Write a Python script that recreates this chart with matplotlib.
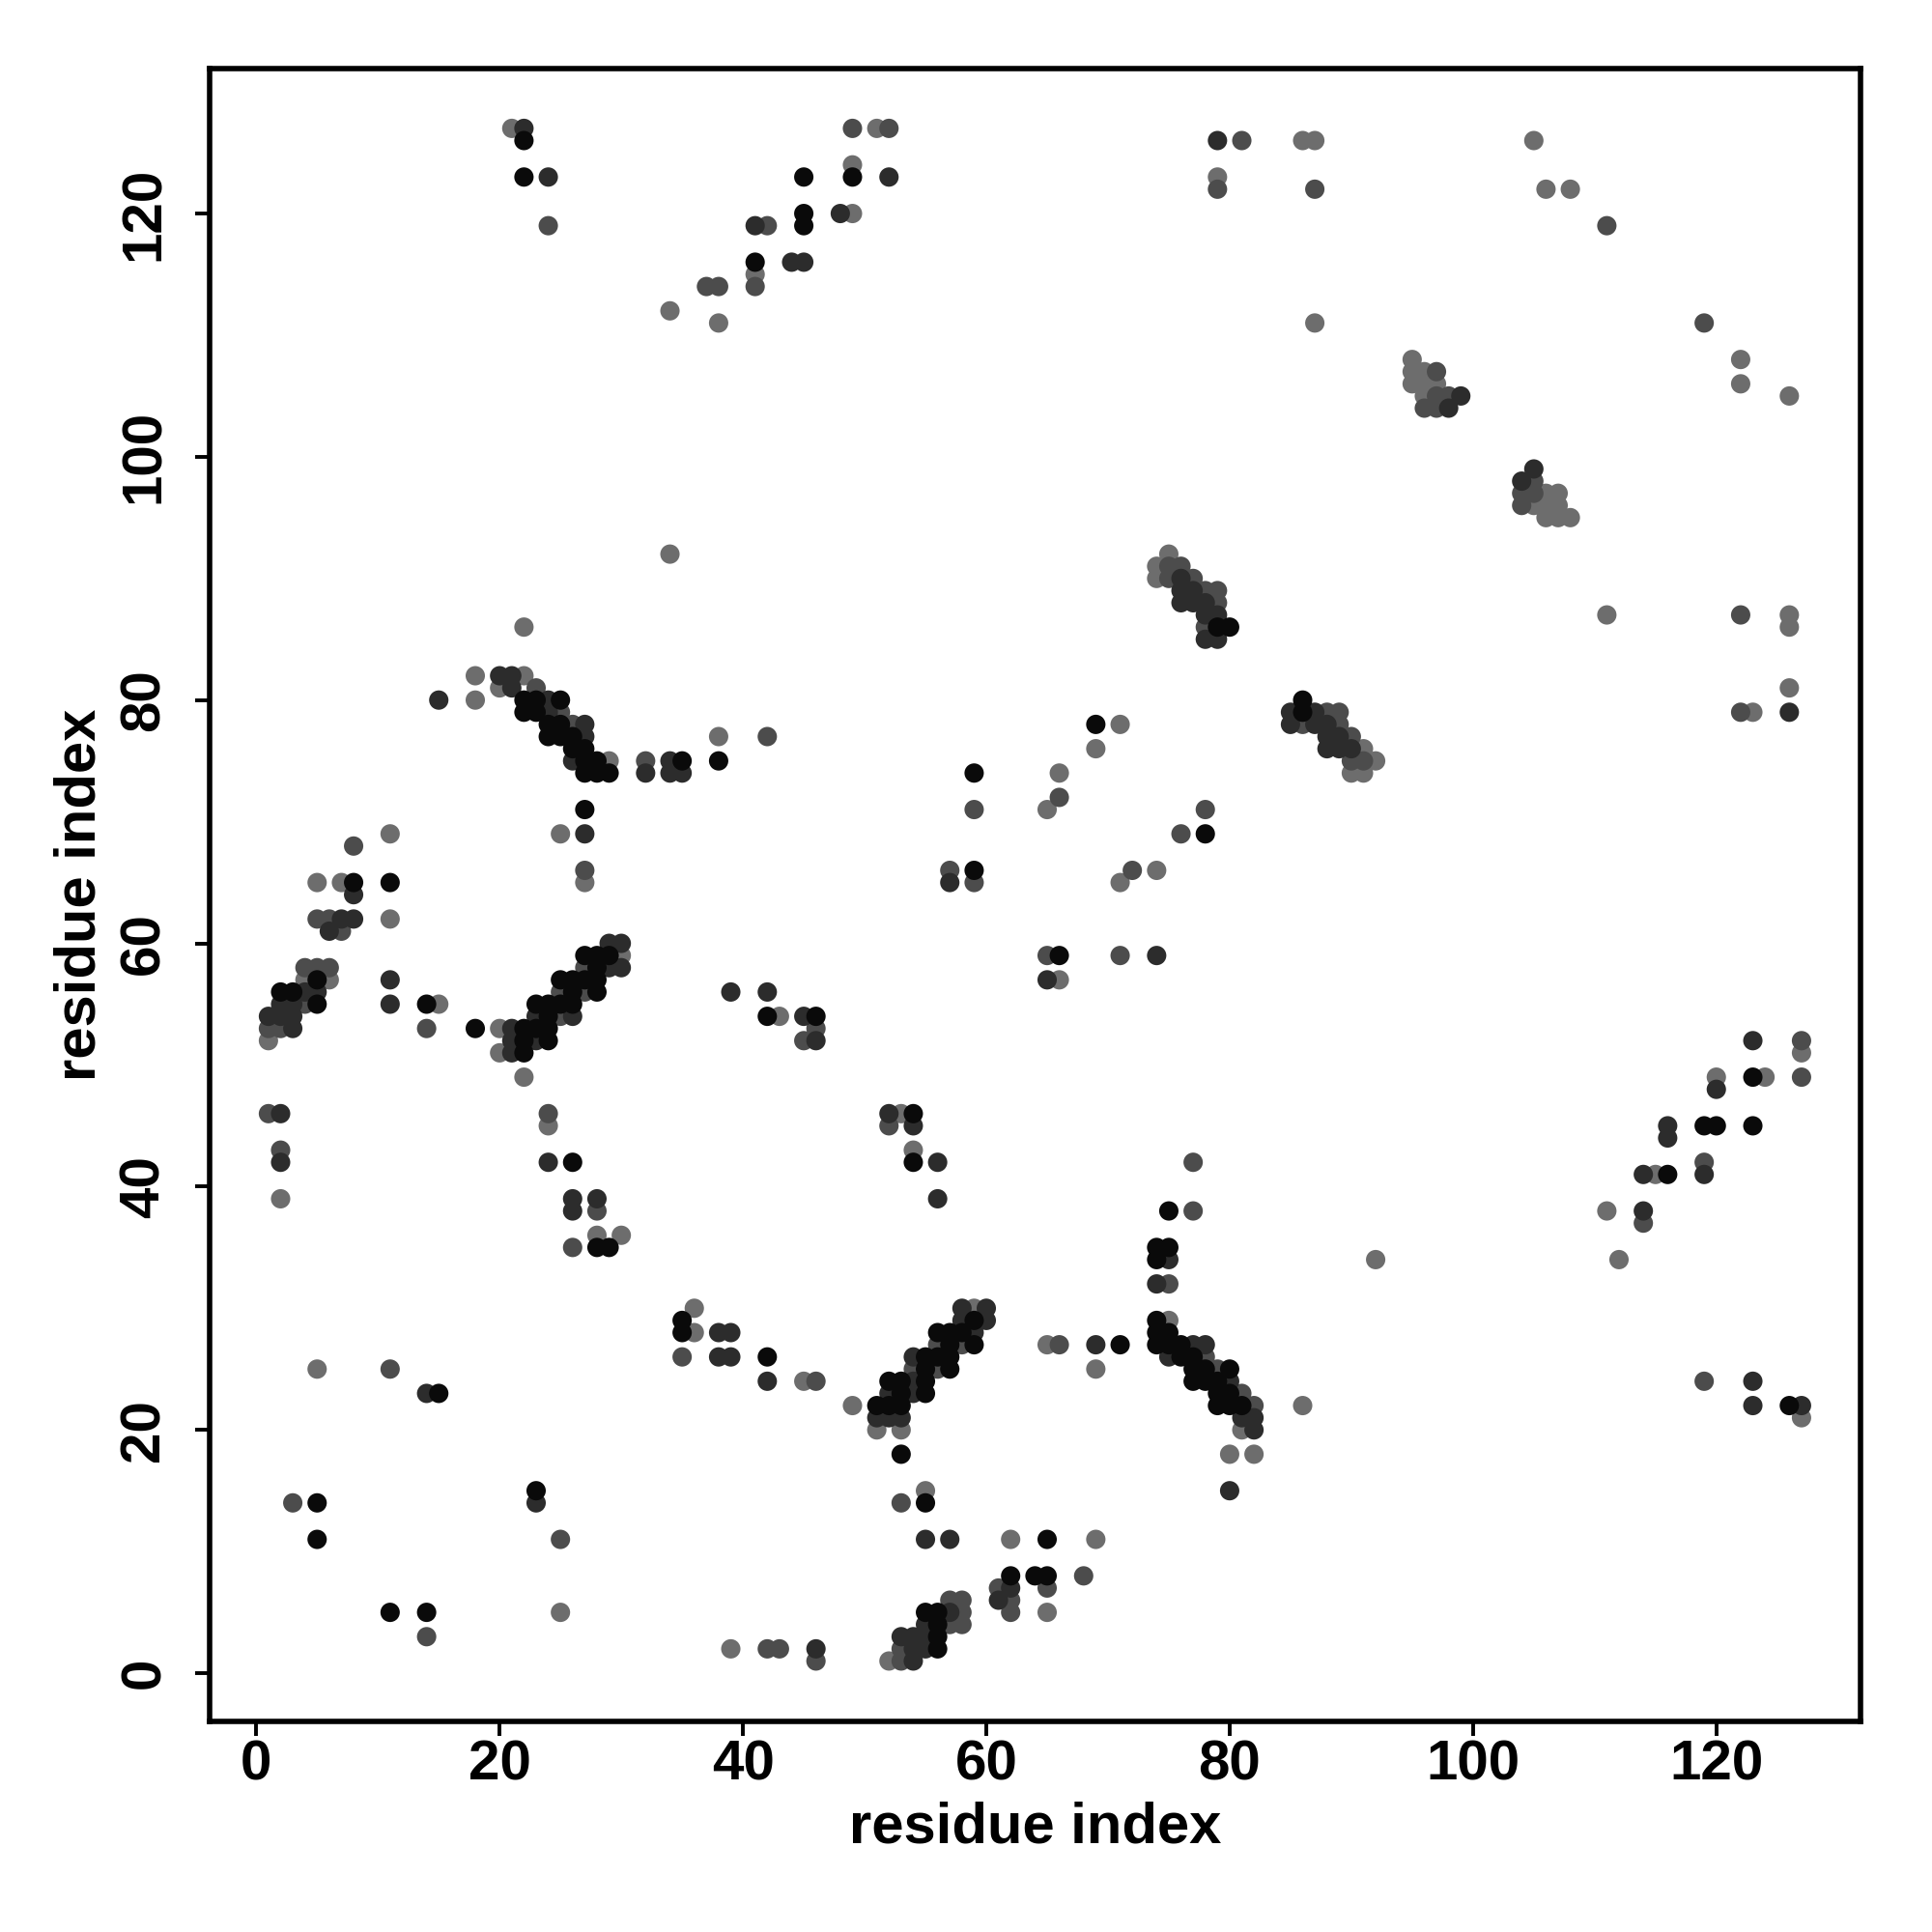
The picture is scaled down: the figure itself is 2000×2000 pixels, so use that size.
#!/usr/bin/env python3
"""Residue contact map: grey level = contact strength (4 shades)."""

import matplotlib
matplotlib.use("Agg")
import matplotlib.pyplot as plt

# contacts (residue i, residue j), grouped by shade
BLACK = [
    (22, 126), (22, 123), (45, 123), (49, 123), (45, 120), (45, 119), (41, 116),
    (86, 80), (86, 79), (79, 86), (80, 86),
    (35, 75), (38, 75), (59, 74), (69, 78), (78, 69), (59, 66),
    (22, 80), (23, 80), (22, 79), (23, 79), (25, 80), (24, 78), (24, 77), (25, 78),
    (25, 77), (26, 77), (26, 76), (27, 76), (27, 75), (27, 74), (28, 75), (28, 74),
    (29, 74), (27, 71),
    (8, 65), (11, 65), (5, 57), (2, 56), (3, 56), (5, 55),
    (27, 59), (28, 59), (29, 59), (28, 58), (25, 57), (26, 57), (27, 57), (28, 57),
    (28, 56), (26, 56), (23, 55), (24, 55), (25, 55), (26, 55), (24, 54), (22, 53),
    (23, 53), (24, 53), (22, 52), (24, 52), (22, 51), (18, 53), (14, 55),
    (26, 42), (28, 35), (29, 35),
    (42, 54), (46, 54), (54, 46), (54, 42),
    (66, 59),
    (75, 38), (74, 35), (75, 35), (74, 34),
    (123, 49), (119, 45), (120, 45), (123, 45), (116, 41),
    (15, 23), (5, 14), (5, 11), (23, 15), (11, 5), (14, 5),
    (35, 29), (35, 28), (42, 26),
    (59, 29), (56, 28), (57, 28), (58, 28), (57, 27), (59, 27), (55, 26), (56, 26),
    (57, 26), (55, 25), (57, 25), (52, 24), (53, 24), (55, 24), (53, 23), (55, 23),
    (51, 22), (52, 22), (53, 22), (53, 18),
    (55, 14), (65, 11), (62, 8), (64, 8), (65, 8), (55, 5), (56, 5), (56, 4),
    (56, 3), (56, 2),
    (71, 27),
    (74, 29), (74, 28), (75, 28), (74, 27), (75, 27), (76, 27), (76, 26), (77, 26),
    (77, 25), (78, 25), (77, 24), (78, 24), (79, 24), (79, 23), (79, 22), (80, 25),
    (80, 23), (80, 22), (81, 22),
    (126, 22),
]

DARK = [
    (22, 127), (24, 123), (52, 123), (48, 120), (41, 119), (44, 116), (45, 116),
    (79, 126),
    (99, 105), (98, 104), (105, 99), (104, 98),
    (126, 79),
    (85, 79), (85, 78), (87, 79), (87, 78), (88, 78), (88, 77), (89, 77), (88, 76),
    (89, 76), (90, 76),
    (76, 90), (76, 89), (77, 89), (76, 88), (77, 88), (78, 88), (78, 87), (79, 87),
    (78, 85), (79, 85),
    (34, 75), (34, 74), (35, 74), (57, 65),
    (15, 80), (20, 82), (21, 82), (21, 81), (24, 80), (27, 78), (27, 77), (26, 75),
    (32, 74), (27, 69), (24, 79),
    (8, 64), (7, 62), (8, 62), (6, 61), (4, 56), (5, 56), (2, 55), (3, 55), (1, 54),
    (2, 54), (3, 54), (3, 53), (11, 57), (11, 55),
    (29, 60), (30, 60), (29, 58), (30, 58), (23, 54), (26, 54), (21, 53), (21, 52),
    (23, 52), (21, 51),
    (2, 46), (2, 42), (24, 42), (26, 39), (26, 38), (28, 39),
    (39, 56), (42, 56), (45, 54), (46, 52), (52, 46), (54, 45), (56, 42), (56, 39),
    (65, 57), (74, 59),
    (75, 34), (74, 32),
    (123, 52), (120, 48), (116, 45), (116, 44), (119, 41), (114, 41), (114, 38),
    (14, 23), (23, 14),
    (38, 28), (39, 28), (38, 26), (39, 26), (42, 24),
    (58, 30), (60, 30), (58, 29), (60, 29), (59, 28), (54, 26), (54, 24), (52, 23),
    (54, 23), (51, 21), (52, 21), (53, 21),
    (55, 11), (57, 11), (62, 7), (61, 6), (57, 5), (55, 4), (53, 3), (54, 3),
    (55, 3), (54, 2), (55, 2), (54, 1),
    (46, 2), (69, 27),
    (77, 27), (78, 27), (75, 26), (80, 24), (81, 21), (82, 21), (82, 20), (80, 15),
    (123, 24), (123, 22), (127, 22),
]

MEDIUM = [
    (24, 119), (49, 127), (52, 127), (42, 119), (41, 114), (37, 114), (38, 114),
    (81, 126), (79, 122), (87, 122), (111, 119), (119, 111),
    (97, 107), (97, 105), (98, 105), (96, 104), (97, 104),
    (105, 98), (104, 97), (105, 97), (104, 96),
    (122, 87), (122, 79),
    (86, 78), (88, 79), (89, 79), (89, 78), (90, 77), (90, 75), (91, 75),
    (75, 91), (76, 91), (75, 90), (77, 90), (78, 89), (79, 89), (79, 88), (78, 86),
    (42, 77), (59, 71), (66, 72), (76, 69), (57, 66), (59, 65), (72, 66), (78, 71),
    (23, 81), (25, 79), (26, 78), (32, 75), (27, 66), (8, 68),
    (5, 62), (6, 62), (7, 61), (4, 58), (5, 58), (6, 58), (4, 55), (1, 53), (2, 53),
    (27, 58), (27, 56), (25, 56), (25, 54), (14, 53),
    (1, 46), (2, 43), (24, 46), (28, 38), (26, 35),
    (46, 53), (45, 52), (52, 45),
    (65, 59), (71, 59),
    (77, 42), (77, 38), (75, 32),
    (127, 52), (127, 49), (119, 42), (114, 37),
    (11, 25), (3, 14), (25, 11), (14, 3),
    (35, 26), (46, 24),
    (56, 27), (58, 27), (54, 25), (56, 25),
    (53, 14), (62, 6), (62, 5), (61, 7), (65, 7), (57, 6), (58, 6), (58, 5),
    (58, 4), (57, 4), (53, 2), (53, 1), (68, 8),
    (42, 2), (43, 2), (46, 1),
    (66, 27),
    (78, 26), (79, 25), (81, 23), (82, 22),
    (119, 24),
]

LIGHT = [
    (21, 127), (49, 124), (51, 127), (49, 120), (41, 115), (34, 112), (38, 111),
    (86, 126), (87, 126), (105, 126), (79, 123), (106, 122), (108, 122), (87, 111),
    (122, 108), (122, 106), (126, 105),
    (95, 108), (95, 107), (96, 107), (95, 106), (96, 106), (97, 106), (96, 105),
    (106, 97), (107, 97), (105, 96), (106, 96), (107, 96), (106, 95), (107, 95),
    (108, 95),
    (111, 87), (126, 87), (126, 86), (126, 81), (123, 79),
    (91, 76), (92, 75), (90, 74), (91, 74),
    (75, 92), (74, 91), (74, 90),
    (34, 92), (38, 77), (66, 74), (65, 71), (71, 78), (69, 76), (74, 66), (71, 65),
    (22, 86), (18, 82), (18, 80), (22, 82), (20, 81), (25, 69), (27, 65), (29, 75),
    (11, 69),
    (5, 65), (7, 65), (11, 62), (4, 57), (6, 57), (1, 52),
    (30, 59), (20, 53), (20, 51), (22, 49), (15, 55),
    (2, 39), (24, 45), (28, 36), (30, 36),
    (43, 54), (53, 46), (54, 43),
    (66, 57),
    (127, 51), (120, 49), (124, 49), (115, 41), (111, 38), (92, 34), (112, 34),
    (5, 25), (25, 5),
    (36, 30), (36, 28), (45, 24), (49, 22),
    (59, 30), (51, 20), (53, 20),
    (55, 15), (62, 11), (69, 11), (65, 5), (52, 1),
    (39, 2),
    (65, 27), (69, 25),
    (75, 29), (81, 20), (80, 18), (82, 18), (86, 22),
    (127, 21),
]

SHADES = [
    (LIGHT, "#6d6d6d"),
    (MEDIUM, "#4c4c4c"),
    (DARK, "#2c2c2c"),
    (BLACK, "#0a0a0a"),
]

TICKS = [0, 20, 40, 60, 80, 100, 120]

plt.rcParams["font.family"] = ["Liberation Sans", "DejaVu Sans"]
plt.rcParams["font.weight"] = "bold"

fig = plt.figure(figsize=(10, 10), dpi=200)
ax = fig.add_axes([0.1084, 0.1091, 0.8546, 0.8553])

for pts, colour in SHADES:
    xs = [p[0] for p in pts]
    ys = [p[1] for p in pts]
    ax.scatter(xs, ys, s=52, c=colour, edgecolors="none", zorder=2)

ax.set_xlim(-3.85, 131.85)
ax.set_ylim(-3.95, 131.9)
ax.set_xticks(TICKS)
ax.set_yticks(TICKS)
ax.set_xticklabels([str(t) for t in TICKS], fontsize=21, fontweight="bold")
ax.set_yticklabels([str(t) for t in TICKS], fontsize=21, fontweight="bold",
                   rotation=90, va="center")
ax.tick_params(axis="both", direction="out", length=5.4, width=1.4)
ax.tick_params(axis="x", pad=1.5)
ax.tick_params(axis="y", pad=9)
for sp in ax.spines.values():
    sp.set_linewidth(2.0)

fig.text(0.5357, 0.0542, "residue index", ha="center", va="center",
         fontsize=21.5, fontweight="bold")
fig.text(0.0415, 0.537, "residue index", ha="center", va="center",
         rotation=90, fontsize=21.5, fontweight="bold")

fig.savefig("out.png", dpi=200, facecolor="white")
